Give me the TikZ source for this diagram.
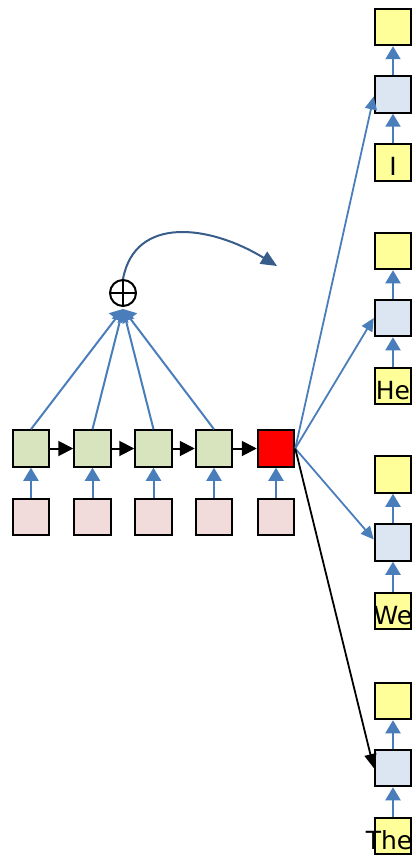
\documentclass[tikz,border=0pt]{standalone}
\usepackage{fontspec}
\setmainfont{DejaVu Sans}
\usetikzlibrary{arrows.meta}
\definecolor{encgreen}{HTML}{D7E4BD}
\definecolor{embpink}{HTML}{F2DCDB}
\definecolor{outyellow}{HTML}{FFFF99}
\definecolor{decblue}{HTML}{DCE6F2}
\definecolor{arrblue}{HTML}{4A7EBB}
\definecolor{curveblue}{HTML}{385D8A}
\begin{document}
\begin{tikzpicture}[x=1pt,y=-1pt,
  cell/.style={draw=black, line width=2pt, minimum size=36.5pt, inner sep=0pt},
  enc/.style={cell, fill=encgreen},
  emb/.style={cell, fill=embpink},
  outb/.style={cell, fill=outyellow},
  dec/.style={cell, fill=decblue},
  word/.style={font=\fontsize{25}{30}\selectfont, anchor=base, inner sep=0pt},
  uparrow/.style={draw=arrblue, line width=2pt, -{Triangle[width=15pt,length=13pt,fill=arrblue]}},
  attarrow/.style={draw=arrblue, line width=2pt, -{Triangle[width=17pt,length=12pt,fill=arrblue]}},
  recarrow/.style={draw=black, line width=2pt, -{Triangle[width=15pt,length=15pt]}},
  outarrow/.style={draw=arrblue, line width=1.8pt, -{Triangle[width=12pt,length=13pt,fill=arrblue]}},
  blkarrow/.style={draw=black, line width=1.8pt, -{Triangle[width=12pt,length=14pt]}},
]
\useasboundingbox (0,0) rectangle (415,856);

% encoder
\foreach \i/\x in {1/31,2/92.5,3/153.5,4/214}{
  \node[emb] (p\i) at (\x,517) {};
  \node[enc] (g\i) at (\x,448.5) {};
}
\node[emb] (p5) at (276,517) {};
\node[cell, fill=red] (r) at (276,448.5) {};

\foreach \i in {1,...,4}{ \draw[uparrow] (p\i) -- (g\i); }
\draw[uparrow] (p5) -- (r);
\draw[recarrow] (g1) -- (g2);
\draw[recarrow] (g2) -- (g3);
\draw[recarrow] (g3) -- (g4);
\draw[recarrow] (g4) -- (r);

% attention sum
\node[draw=black, line width=2pt, circle, minimum size=26pt, inner sep=0pt] (sum) at (123,293) {};
\draw[line width=2pt] (sum.north) -- (sum.south) (sum.west) -- (sum.east);
\foreach \i in {1,...,4}{ \draw[attarrow] (g\i.north) -- ([yshift=-2pt]sum.south); }
\coordinate (ctip) at (277,266);
\draw[draw=curveblue, line width=2pt, -{Triangle[width=14pt,length=16pt,fill=curveblue]}]
  (sum.north) .. controls (135,215) and (210,225) .. (ctip);

% decoder columns
\foreach \c/\yo/\yd/\yw in {1/27/94.5/162.5, 2/251/318/386, 3/474.5/542.5/611, 4/701/768/836}{
  \node[outb] (o\c) at (393,\yo) {};
  \node[dec] (d\c) at (393,\yd) {};
  \node[outb] (w\c) at (393,\yw) {};
  \draw[uparrow] (w\c) -- (d\c);
  \draw[uparrow] (d\c) -- (o\c);
}
\node[word] (t1) at ([yshift=6pt]w1.south) {I};
\node[word] (t2) at ([yshift=6pt]w2.south) {He};
\node[word] (t3) at ([yshift=6pt]w3.south) {We};
\node[word] (t4) at ([yshift=6pt,xshift=-4pt]w4.south) {The};
\draw[outarrow] (r.east) -- ([yshift=-2pt]d1.west);
\draw[outarrow] (r.east) -- (d2.west);
\draw[outarrow] (r.east) -- ([yshift=3pt]d3.west);
\draw[blkarrow] (r.east) -- (d4.west);
\end{tikzpicture}
\end{document}
